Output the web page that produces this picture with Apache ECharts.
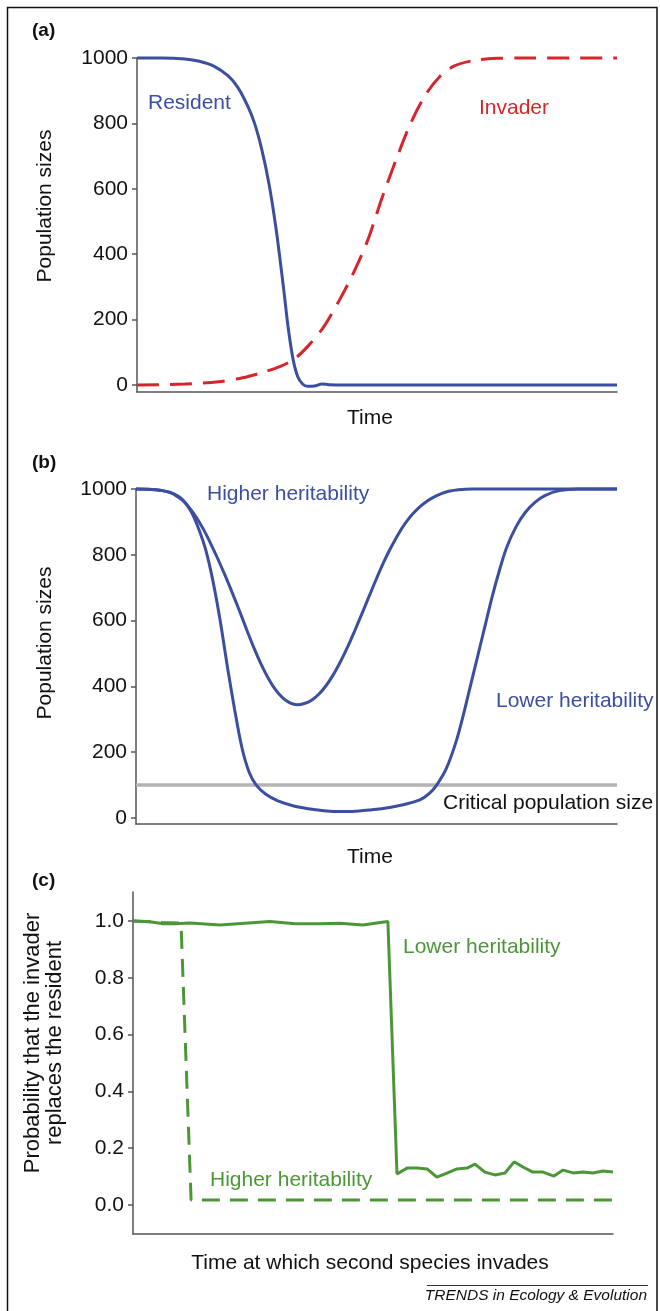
<!DOCTYPE html>
<html>
<head>
<meta charset="utf-8">
<script src="https://cdn.jsdelivr.net/npm/echarts@6/dist/echarts.min.js"></script>
<style>
html, body { margin: 0; padding: 0; background: #fff; }
#chart { width: 660px; height: 1311px; }
</style>
</head>
<body>
<div id="chart"></div>
<script>
// (a) resident vs invader
const residentT = [0, 5, 10, 13, 16, 19, 21, 23, 24.5, 26, 27.5, 29, 30.5, 31.5, 32.5, 33.5, 34.5, 35.5, 37, 38.5, 40, 43, 50, 100]
const residentN = [1000, 1000, 997, 990, 975, 945, 910, 855, 800, 720, 615, 475, 300, 175, 80, 25, 3, -4, -3, 3, 1, 0, 0, 0]
const invaderT = [0, 10, 17, 22, 26, 30, 33, 36, 39, 42, 45, 48, 51, 54, 57, 60, 63, 66, 70, 75, 80, 100]
const invaderN = [0, 3, 10, 22, 38, 58, 82, 125, 180, 255, 340, 440, 570, 690, 800, 885, 942, 975, 992, 999, 1000, 1000]

// (b) resident under two heritabilities
const higherT = [0, 4, 7, 9.5, 11, 12.5, 14, 15.5, 17, 18.5, 20, 21.5, 23, 24.5, 26, 27.5, 29, 30.5, 32, 33.5, 35, 36.5, 38, 39.5, 41, 42.5, 44, 45.5, 47, 48.5, 50, 51.5, 53, 54.5, 56, 57.5, 59, 60.5, 62, 63.5, 65, 67, 70, 100]
const higherN = [1000, 998, 990, 968, 945, 915, 878, 835, 788, 738, 685, 630, 573, 518, 468, 425, 390, 365, 350, 344, 348, 358, 376, 402, 435, 475, 520, 570, 622, 675, 728, 778, 822, 862, 896, 924, 946, 963, 976, 986, 993, 998, 1000, 1000]
const lowerT = [0, 4, 7, 9.5, 11.5, 13, 14.5, 16, 17.5, 19, 20.5, 22, 23.5, 25, 27, 29.5, 33, 37, 41, 45, 49, 53, 56, 59, 61, 62.5, 64.5, 66.5, 68, 69.5, 71, 72.5, 74, 75.5, 77, 79, 81, 83, 85, 88, 92, 100]
const lowerN = [1000, 998, 990, 970, 930, 880, 815, 720, 600, 460, 330, 215, 140, 100, 72, 52, 36, 26, 20, 20, 25, 33, 42, 55, 75, 100, 150, 230, 310, 400, 490, 580, 670, 750, 820, 885, 930, 960, 980, 995, 1000, 1000]
const criticalN = 100

// (c) replacement probability vs invasion time
const probLowT = [0, 3.5, 6.3, 8.8, 11.9, 18.1, 23.3, 28.5, 33.8, 39, 43.1, 47.9, 51.5, 53.1, 55, 57.1, 59.2, 61.25, 63.3, 65.4, 67.5, 69.6, 71.25, 73.3, 75.4, 77.5, 79.4, 81.25, 83.3, 85.4, 87.7, 89.6, 91.7, 93.75, 95.8, 97.9, 100]
const probLowP = [1.0, 0.997, 0.99, 0.99, 0.993, 0.986, 0.992, 0.998, 0.99, 0.99, 0.992, 0.986, 0.995, 0.998, 0.109, 0.13, 0.13, 0.127, 0.098, 0.112, 0.127, 0.13, 0.144, 0.116, 0.106, 0.113, 0.152, 0.134, 0.116, 0.116, 0.102, 0.123, 0.113, 0.116, 0.113, 0.12, 0.116]
const probHighT = [0, 6, 10, 12.1, 100]
const probHighP = [1.0, 0.995, 0.993, 0.018, 0.018]

const popTicks = [0, 200, 400, 600, 800, 1000]
const probTicks = [0, 0.2, 0.4, 0.6, 0.8, 1.0]

const BLUE = '#3c4ea0'
const RED = '#d7262b'
const GREEN = '#4c9638'
const AXIS = '#555'
const FONT = 'Liberation Sans, Arial, sans-serif'

function pairs(xs, ys) {
  return xs.map((x, i) => [x, ys[i]])
}

function xAx(gridIndex) {
  return {
    type: 'value', gridIndex: gridIndex, min: 0, max: 100,
    axisLine: { show: true, onZero: false, lineStyle: { color: AXIS, width: 1.5 } },
    axisTick: { show: false },
    axisLabel: { show: false },
    splitLine: { show: false }
  }
}

function yAx(gridIndex, min, max, ticks, fmt) {
  return {
    type: 'value', gridIndex: gridIndex, min: min, max: max,
    axisLine: { show: true, lineStyle: { color: AXIS, width: 1.5 } },
    axisTick: { show: true, length: 5, customValues: ticks, lineStyle: { color: AXIS, width: 1.5 } },
    axisLabel: { customValues: ticks, margin: 9, fontSize: 21, color: '#111', fontFamily: FONT, formatter: fmt },
    splitLine: { show: false }
  }
}

function line(idx, data, color, dash, smooth) {
  return {
    type: 'line', xAxisIndex: idx, yAxisIndex: idx, data: data,
    showSymbol: false, symbol: 'none', smooth: smooth, clip: false,
    lineStyle: { color: color, width: 3, type: dash || 'solid' },
    z: 3
  }
}

// free text placed in pixels
function txt(x, y, text, color, font, align, extra) {
  return Object.assign({
    type: 'text', x: x, y: y, silent: true,
    style: { text: text, fill: color, font: font + ' ' + FONT, textAlign: align || 'left', textVerticalAlign: 'middle', lineHeight: 22 }
  }, extra || {})
}

const chart = echarts.init(document.getElementById('chart'))

chart.setOption({
  animation: false,
  backgroundColor: '#fff',
  grid: [
    { left: 137, top: 58, width: 480, height: 334 },
    { left: 136, top: 489, width: 481, height: 335 },
    { left: 133, top: 892, width: 480, height: 342 }
  ],
  xAxis: [xAx(0), xAx(1), xAx(2)],
  yAxis: [
    yAx(0, -21.4, 1000, popTicks, v => String(v)),
    yAx(1, -18.2, 1000, popTicks, v => String(v)),
    yAx(2, -0.102, 1.102, probTicks, v => v.toFixed(1))
  ],
  series: [
    line(0, pairs(invaderT, invaderN), RED, [22, 11], 0.3),
    line(0, pairs(residentT, residentN), BLUE, null, 0.3),
    Object.assign(line(1, [[0, criticalN], [100, criticalN]], '#b3b3b3', null, false), { z: 2, lineStyle: { color: '#b3b3b3', width: 3.5 } }),
    line(1, pairs(higherT, higherN), BLUE, null, 0.3),
    line(1, pairs(lowerT, lowerN), BLUE, null, 0.3),
    line(2, pairs(probHighT, probHighP), GREEN, [18, 10], false),
    line(2, pairs(probLowT, probLowP), GREEN, null, false)
  ],
  graphic: [
    { type: 'rect', silent: true, shape: { x: 7.5, y: 7.5, width: 649.5, height: 1330 }, style: { fill: null, stroke: '#111', lineWidth: 1.5 } },
    // panel (a)
    txt(32, 31, '(a)', '#111', 'bold 19px'),
    txt(148, 103, 'Resident', BLUE, '21px'),
    txt(479, 108, 'Invader', RED, '21px'),
    txt(370, 418, 'Time', '#111', '21px', 'center'),
    txt(45, 206, 'Population sizes', '#111', '21px', 'center', { rotation: Math.PI / 2 }),
    // panel (b)
    txt(32, 463, '(b)', '#111', 'bold 19px'),
    txt(207, 494, 'Higher heritability', BLUE, '21px'),
    txt(496, 701, 'Lower heritability', BLUE, '21px'),
    txt(443, 803, 'Critical population size', '#111', '21px'),
    txt(370, 857, 'Time', '#111', '21px', 'center'),
    txt(45, 643, 'Population sizes', '#111', '21px', 'center', { rotation: Math.PI / 2 }),
    // panel (c)
    txt(32, 881, '(c)', '#111', 'bold 19px'),
    txt(403, 947, 'Lower heritability', GREEN, '21px'),
    txt(210, 1180, 'Higher heritability', GREEN, '21px'),
    txt(370, 1263, 'Time at which second species invades', '#111', '21px', 'center'),
    txt(44, 1043, 'Probability that the invader\nreplaces the resident', '#111', '22px', 'center', { rotation: Math.PI / 2 }),
    // journal credit
    { type: 'line', silent: true, shape: { x1: 427, y1: 1285.5, x2: 648, y2: 1285.5 }, style: { stroke: '#333', lineWidth: 1 } },
    txt(647, 1296, 'TRENDS in Ecology & Evolution', '#111', 'italic 15.5px', 'right')
  ]
})
</script>
</body>
</html>
